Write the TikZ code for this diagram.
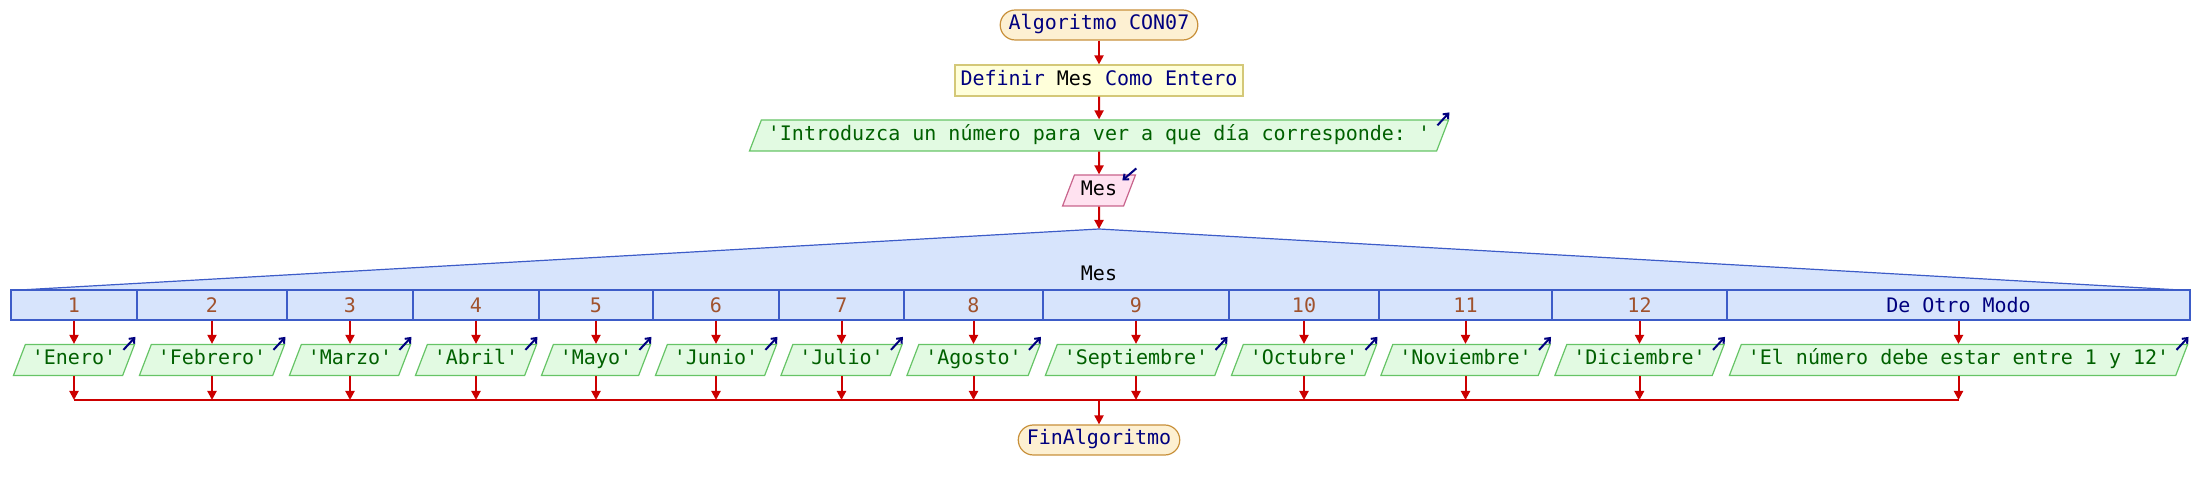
\documentclass[tikz,border=0pt]{standalone}
\usepackage{fontspec}
\setmonofont{DejaVu Sans Mono}
\usetikzlibrary{shapes.geometric,arrows.meta}
\definecolor{navy}{HTML}{00007F}
\definecolor{termfill}{HTML}{FDF0D2}
\definecolor{termdraw}{HTML}{C8903A}
\definecolor{deffill}{HTML}{FFFFDA}
\definecolor{defdraw}{HTML}{D4C878}
\definecolor{outfill}{HTML}{E2FAE2}
\definecolor{outdraw}{HTML}{66C466}
\definecolor{outtext}{HTML}{006000}
\definecolor{infill}{HTML}{FFE2F0}
\definecolor{indraw}{HTML}{C8648C}
\definecolor{selfill}{HTML}{D7E4FC}
\definecolor{seldraw}{HTML}{3D5CC8}
\definecolor{numcol}{HTML}{A0522D}
\definecolor{flowred}{HTML}{CC0000}
\begin{document}
\begin{tikzpicture}[x=0.5pt,y=-0.5pt,
  font=\ttfamily\fontsize{10pt}{12pt}\selectfont,
  base/.style={text height=7.5pt,text depth=2.5pt,inner ysep=2.75pt,line width=0.6pt},
  term/.style={base,draw=termdraw,fill=termfill,rounded corners=7.5pt,inner xsep=4.25pt,inner ysep=2.5pt,text=navy},
  defbox/.style={base,draw=defdraw,fill=deffill,inner xsep=2.75pt,text=navy},
  outp/.style={base,trapezium,trapezium left angle=69,trapezium right angle=111,draw=outdraw,fill=outfill,text=outtext,inner xsep=3.25pt},
  inp/.style={outp,draw=indraw,fill=infill,text=black},
  cell/.style={draw=seldraw,fill=selfill,minimum height=15pt,inner sep=0pt,text=numcol,line width=0.6pt},
  flowline/.style={draw=flowred,line width=1pt},
  flow/.style={flowline,-{Triangle[length=4.5pt,width=4.5pt]}},
  icon/.style={draw=navy,line width=1pt,-{Straight Barb[length=2.2pt,width=3.6pt]}},
]
\useasboundingbox (0,0) rectangle (2198,490);

% top chain
\node[term] (alg) at (1099,25) {Algoritmo CON07};
\node[defbox] (def) at (1099,80.5) {Definir \textcolor{black}{Mes} Como Entero};
\node[outp] (intro) at (1099,135.5) {'Introduzca un número para ver a que día corresponde: '};
\node[inp] (leer) at (1099,190.5) {Mes};
\draw[icon] ([shift={(-12,6)}]intro.top right corner) -- ([shift={(0,-7)}]intro.top right corner);
\draw[icon] ([shift={(0,-6)}]leer.top right corner) -- ([shift={(-14,6)}]leer.top right corner);

% selection
\coordinate (apex) at (1099,229);
\coordinate (sl) at (20,290);
\coordinate (sr) at (2180,290);
\fill[selfill] (sl) -- (apex) -- (sr) -- cycle;
\draw[seldraw,line width=0.6pt] (sl) -- (apex) -- (sr);
\node[text=black] (selvar) at (1099,273) {Mes};

\draw[flow] (alg) -- (def);
\draw[flow] (def) -- (intro);
\draw[flow] (intro) -- (leer);
\draw[flow] (leer) -- (apex);

\foreach \i/\x/\w/\l in {1/74/63/1,2/212/75/2,3/350/63/3,4/476/63/4,5/596/57/5,6/716/63/6,7/841.5/62.5/7,8/973.5/69.5/8,9/1136/93/9,10/1304/75/10,11/1465.5/86.5/11,12/1639.5/87.5/12}
  \node[cell,minimum width=\w pt] (c\i) at (\x,305) {\l};
\node[cell,minimum width=231.5pt,text=navy] (c13) at (1958.5,305) {De Otro Modo};

% outputs
\foreach \i/\x/\t in {1/74/Enero,2/212/Febrero,3/350/Marzo,4/476/Abril,5/596/Mayo,6/716/Junio,7/841.5/Julio,8/973.5/Agosto,9/1136/Septiembre,10/1304/Octubre,11/1465.5/Noviembre,12/1639.5/Diciembre,13/1958.5/El número debe estar entre 1 y 12}
{
  \node[outp] (o\i) at (\x,360) {'\t'};
  \draw[icon] ([shift={(-12,6)}]o\i.top right corner) -- ([shift={(0,-7)}]o\i.top right corner);
}

\coordinate (m) at (1099,400);
\node[term] (fin) at (1099,440) {FinAlgoritmo};

\foreach \i in {1,...,13}
{
  \draw[flow] (c\i.south) -- (c\i.south |- o\i.north);
  \draw[flow] (c\i.south |- o\i.south) -- (c\i.south |- m);
}
\draw[flowline] (c1.south |- m) -- (c13.south |- m);
\draw[flow] (m) -- (fin);
\end{tikzpicture}
\end{document}
